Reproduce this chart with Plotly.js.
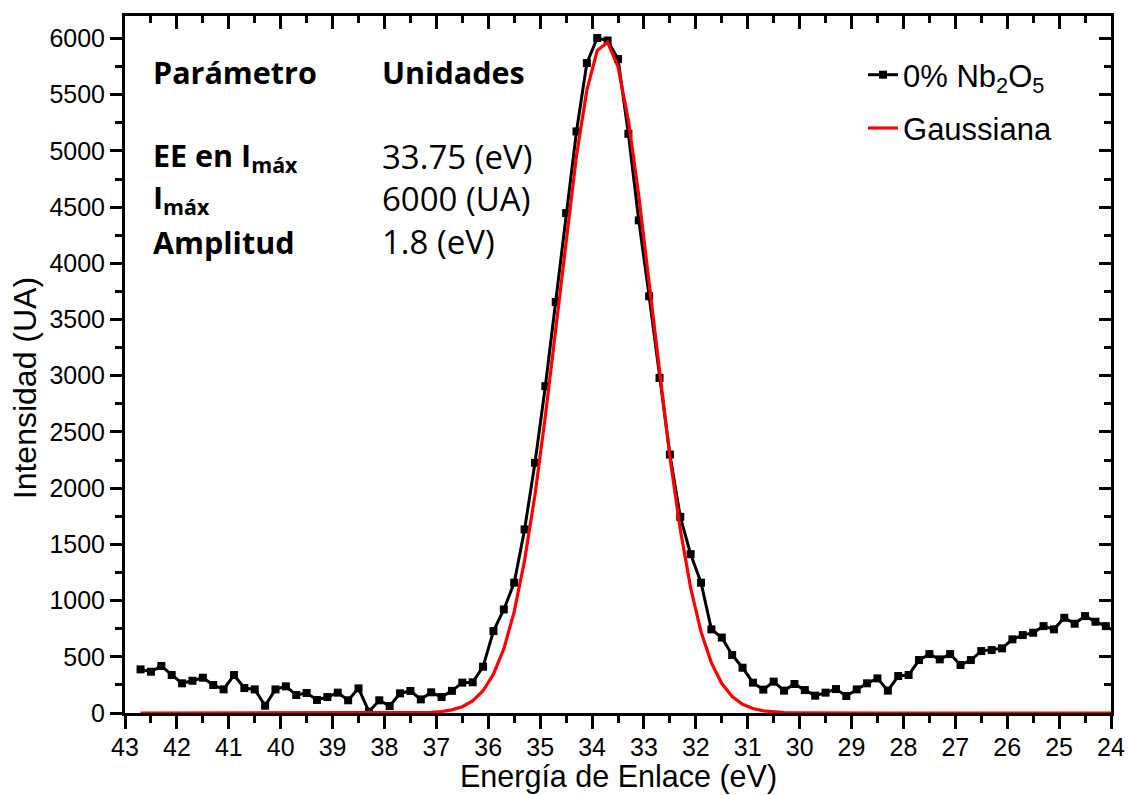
<!DOCTYPE html>
<html>
<head>
<meta charset="utf-8">
<script src="https://cdn.plot.ly/plotly-3.0.1.min.js"></script>
<style>html,body{margin:0;padding:0;background:#fff;}#chart{width:1129px;height:795px;}</style>
</head>
<body>
<div id="chart"></div>
<script>
// Binding energy (eV)
const energy = [42.7,42.5,42.3,42.1,41.9,41.7,41.5,41.3,41.1,40.9,
  40.7,40.5,40.3,40.1,39.9,39.7,39.5,39.3,39.1,38.9,
  38.7,38.5,38.3,38.1,37.9,37.7,37.5,37.3,37.1,36.9,
  36.7,36.5,36.3,36.1,35.9,35.7,35.5,35.3,35.1,34.9,
  34.7,34.5,34.3,34.1,33.9,33.7,33.5,33.3,33.1,32.9,
  32.7,32.5,32.3,32.1,31.9,31.7,31.5,31.3,31.1,30.9,
  30.7,30.5,30.3,30.1,29.9,29.7,29.5,29.3,29.1,28.9,
  28.7,28.5,28.3,28.1,27.9,27.7,27.5,27.3,27.1,26.9,
  26.7,26.5,26.3,26.1,25.9,25.7,25.5,25.3,25.1,24.9,
  24.7,24.5,24.3,24.1,23.9];

// Measured intensity, 0% Nb2O5 (UA)
const intensity = [388,367,418,338,264,287,314,249,210,338,
  222,210,65,210,237,160,178,116,142,181,
  113,219,12,113,62,175,196,121,184,142,
  197,270,273,412,729,921,1159,1633,2225,2907,
  3656,4447,5173,5781,6004,5982,5817,5152,4382,3707,
  2981,2299,1745,1413,1159,744,671,516,403,270,
  208,279,199,258,204,154,181,213,151,210,
  264,308,199,329,338,471,524,477,524,427,
  471,551,560,575,655,693,714,773,744,847,
  794,862,812,773,720];

// Gaussian fit curve (UA)
const gaussiana = [0,0,0,0,0,0,0,0,0,0,
  0,0,0,0,0,0,0,0,0,0,
  0,0,0,0,0,0,1,3,6,13,
  28,56,108,198,345,571,902,1356,1940,2641,
  3423,4223,4957,5540,5893,5966,5749,5273,4603,3825,
  3025,2278,1632,1113,722,446,262,147,78,40,
  19,9,4,2,1,0,0,0,0,0,
  0,0,0,0,0,0,0,0,0,0,
  0,0,0,0,0,0,0,0,0,0,
  0,0,0,0,0];

const xTickVals = [43,42,41,40,39,38,37,36,35,34,33,32,31,30,29,28,27,26,25,24];
const yTickVals = [0,500,1000,1500,2000,2500,3000,3500,4000,4500,5000,5500,6000];

const seriesNames = ["0% Nb<sub>2</sub>O<sub>5</sub>", "Gaussiana"];
const xTitle = "Energía de Enlace (eV)";
const yTitle = "Intensidad (UA)";

const tableLabels = ["<b>Parámetro</b>", "<b>EE en I<sub>máx</sub></b>", "<b>I<sub>máx</sub></b>", "<b>Amplitud</b>"];
const tableValues = ["<b>Unidades</b>", "33.75 (eV)", "6000 (UA)", "1.8 (eV)"];
const tableRowsY = [0.919, 0.799, 0.738, 0.676];

const traces = [
  {
    x: energy, y: intensity, name: seriesNames[0], type: 'scatter', mode: 'lines+markers',
    legendgroup: 'a',
    line: {color: '#000000', width: 3},
    marker: {symbol: 'square', size: 8, color: '#000000'},
    cliponaxis: false
  },
  {
    x: energy, y: gaussiana, name: seriesNames[1], type: 'scatter', mode: 'lines',
    legendgroup: 'b',
    line: {color: '#ff0000', width: 3.2}
  }
];

const sansA = '"Liberation Sans", Arial, sans-serif';
const tickFont = {family: sansA, size: 25, color: '#000'};
const boldFont = {family: '"Open Sans", sans-serif', size: 30.5, color: '#000'};
const regFont = {family: '"Open Sans", sans-serif', size: 33, color: '#000'};

const annotations = [];
tableLabels.forEach((t, i) => {
  annotations.push({xref: 'paper', yref: 'paper', x: 0.026, y: tableRowsY[i], xanchor: 'left', yanchor: 'middle',
    text: t, showarrow: false, font: boldFont});
});
tableValues.forEach((t, i) => {
  annotations.push({xref: 'paper', yref: 'paper', x: 0.2587, y: tableRowsY[i], xanchor: 'left', yanchor: 'middle',
    text: t, showarrow: false, font: i === 0 ? boldFont : regFont});
});
// axis titles (placed as in the reference)
annotations.push({xref: 'paper', yref: 'paper', x: -0.1014, y: 0.466, xanchor: 'center', yanchor: 'middle',
  textangle: -90, text: yTitle, showarrow: false, font: {family: sansA, size: 32, color: '#000'}});
annotations.push({xref: 'paper', yref: 'paper', x: 0.5, y: -0.091, xanchor: 'center', yanchor: 'middle',
  text: xTitle, showarrow: false, font: {family: sansA, size: 30.5, color: '#000'}});

const layout = {
  width: 1129, height: 795,
  margin: {l: 125, r: 18, t: 16, b: 82},
  paper_bgcolor: '#fff', plot_bgcolor: '#fff',
  showlegend: true,
  legend: {x: 0.7485, y: 0.954, xanchor: 'left', yanchor: 'top', bgcolor: 'rgba(0,0,0,0)',
    traceorder: 'grouped', tracegroupgap: 10,
    font: {family: sansA, size: 31, color: '#000'}},
  xaxis: {
    range: [43, 24], tickvals: xTickVals, ticks: 'outside', ticklen: 13, tickwidth: 3, tickcolor: '#000',
    showline: true, linewidth: 3, linecolor: '#000', showgrid: false, zeroline: false,
    tickfont: tickFont, layer: 'below traces', automargin: false, ticklabelstandoff: -3,
    minor: {dtick: 0.5, ticks: 'outside', ticklen: 7, tickwidth: 3, tickcolor: '#000', showgrid: false}
  },
  yaxis: {
    range: [0, 6200], tickvals: yTickVals, ticks: 'outside', ticklen: 12, tickwidth: 3, tickcolor: '#000',
    showline: true, linewidth: 3, linecolor: '#000', showgrid: false, zeroline: false,
    tickfont: tickFont, layer: 'below traces', automargin: false,
    minor: {dtick: 250, tick0: 0, ticks: 'outside', ticklen: 7, tickwidth: 3, tickcolor: '#000', showgrid: false}
  },
  xaxis2: {
    overlaying: 'x', side: 'top', anchor: 'y', range: [43, 24], tickvals: xTickVals,
    ticks: 'inside', ticklen: 13, tickwidth: 3, tickcolor: '#000', showticklabels: false,
    showline: true, linewidth: 3, linecolor: '#000', showgrid: false, zeroline: false,
    minor: {dtick: 0.5, ticks: 'inside', ticklen: 7, tickwidth: 3, tickcolor: '#000', showgrid: false}
  },
  yaxis2: {
    overlaying: 'y', side: 'right', anchor: 'x', range: [0, 6200], tickvals: yTickVals,
    ticks: 'inside', ticklen: 12, tickwidth: 3, tickcolor: '#000', showticklabels: false,
    showline: true, linewidth: 3, linecolor: '#000', showgrid: false, zeroline: false,
    minor: {dtick: 250, tick0: 0, ticks: 'inside', ticklen: 7, tickwidth: 3, tickcolor: '#000', showgrid: false}
  },
  annotations: annotations
};

traces.push({x: [], y: [], xaxis: 'x2', yaxis: 'y2', showlegend: false, hoverinfo: 'skip', type: 'scatter', mode: 'lines'});

Plotly.newPlot('chart', traces, layout, {displayModeBar: false, staticPlot: true});
</script>
</body>
</html>
